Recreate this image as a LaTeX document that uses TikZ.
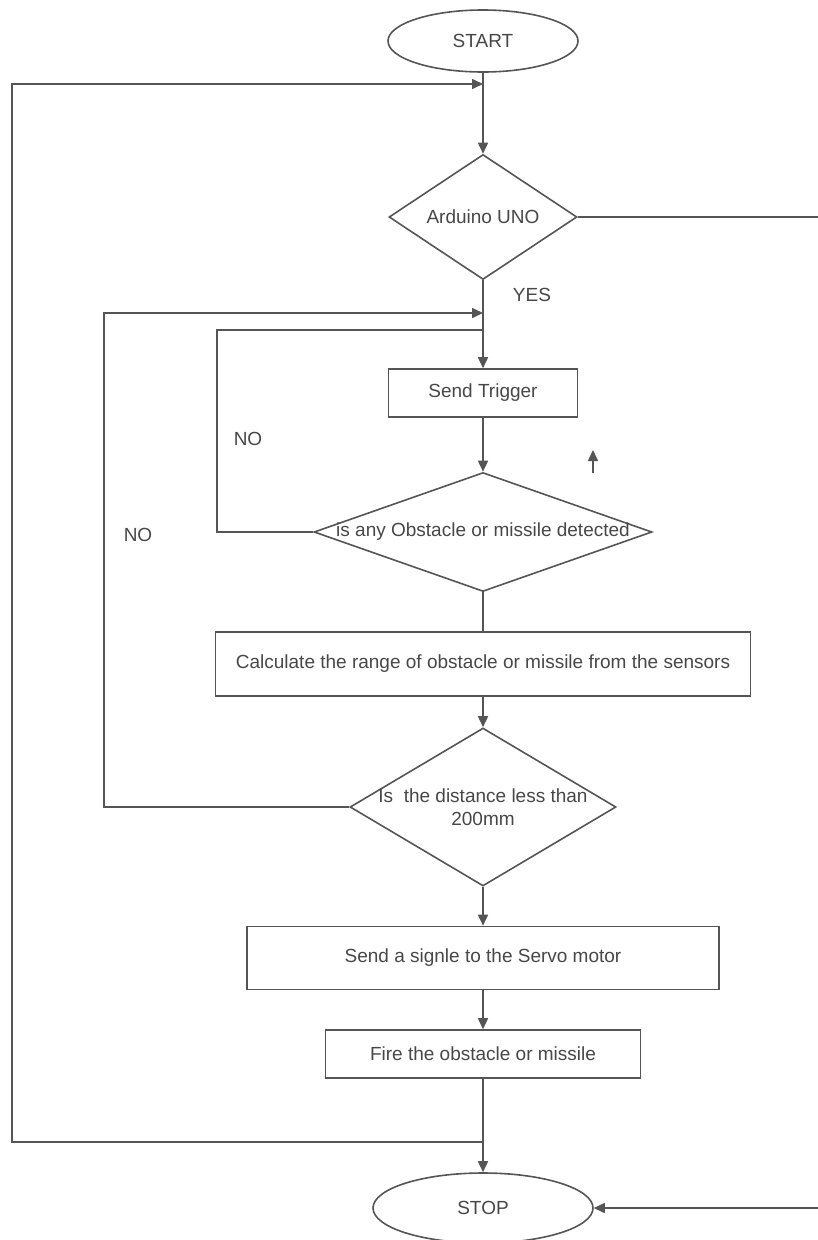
\documentclass[tikz,border=0pt]{standalone}
\usepackage{fontspec}
\setmainfont{Liberation Sans}
\usepackage{tikz}
\usetikzlibrary{shapes.geometric, arrows.meta}
\definecolor{edge}{HTML}{555555}
\definecolor{ink}{HTML}{474747}
\tikzset{
    startstop/.style={ellipse, draw=edge, line width=1.6pt, text=ink, inner sep=0pt},
    process/.style={rectangle, draw=edge, line width=1.6pt, text=ink, inner sep=0pt},
    decision/.style={diamond, draw=edge, line width=1.6pt, inner sep=0pt},
    line/.style={draw=edge, line width=1.6pt},
    flow/.style={line, -{Triangle[length=11pt, width=10pt]}},
    lbl/.style={text=ink}
}

\begin{document}
\begin{tikzpicture}[x=1pt, y=-1pt, font=\fontsize{19}{23}\selectfont]
    \useasboundingbox (0,0) rectangle (818,1240);
    % main column
    \node[startstop, minimum width=190pt, minimum height=62pt] (start) at (483,41) {START};
    \node[decision, minimum width=188pt, minimum height=125pt, label={[lbl]center:Arduino UNO}] (ard) at (483,217) {};
    \node[process, minimum width=189pt, minimum height=48pt] (trig) at (483,393) {Send Trigger};
    \node[decision, minimum width=338pt, minimum height=119pt, label={[lbl]center:is any Obstacle or missile detected}] (obst) at (483,532) {};
    \node[process, minimum width=535pt, minimum height=64pt] (calc) at (483,664) {Calculate the range of obstacle or missile from the sensors};
    \node[decision, minimum width=266pt, minimum height=158pt, label={[lbl, align=center]center:{Is\ \ the distance less than\\200mm}}] (dist) at (483,807) {};
    \node[process, minimum width=472pt, minimum height=63pt] (servo) at (483,958) {Send a signle to the Servo motor};
    \node[process, minimum width=315pt, minimum height=48pt] (fire) at (483,1054) {Fire the obstacle or missile};
    \node[startstop, minimum width=220pt, minimum height=70pt] (stop) at (483,1208) {STOP};

    \node[lbl] (yes) at (532,295) {YES};
    \node[lbl] (noin) at (248,439) {NO};
    \node[lbl] (noout) at (138,535) {NO};

    \coordinate (j1) at (483,84);
    \coordinate (j2) at (483,313);
    \coordinate (j3) at (483,330);
    \coordinate (j4) at (483,1142);
    \coordinate (r1) at (818,217);
    \coordinate (r2) at (818,1208);
    \coordinate (s1) at (593,473);
    \coordinate (s2) at (593,450);

    \draw[flow] (start.south) -- (ard.north);
    \draw[flow] (ard.south) -- (trig.north);
    \draw[flow] (trig.south) -- (obst.north);
    \draw[line] (obst.south) -- (calc.north);
    \draw[flow] (calc.south) -- (dist.north);
    \draw[flow] (dist.south) -- (servo.north);
    \draw[flow] (servo.south) -- (fire.north);
    \draw[flow] (fire.south) -- (stop.north);
    % loops back
    \draw[flow] (j4) -- ++(-471,0) |- (j1);
    \draw[flow] (dist.west) -- ++(-245,0) |- (j2);
    \draw[line] (obst.west) -- ++(-96,0) |- (j3);
    \draw[line] (ard.east) -- (r1);
    \draw[flow] (r2) -- (stop.east);
    \draw[flow] (s1) -- (s2);
\end{tikzpicture}
\end{document}
